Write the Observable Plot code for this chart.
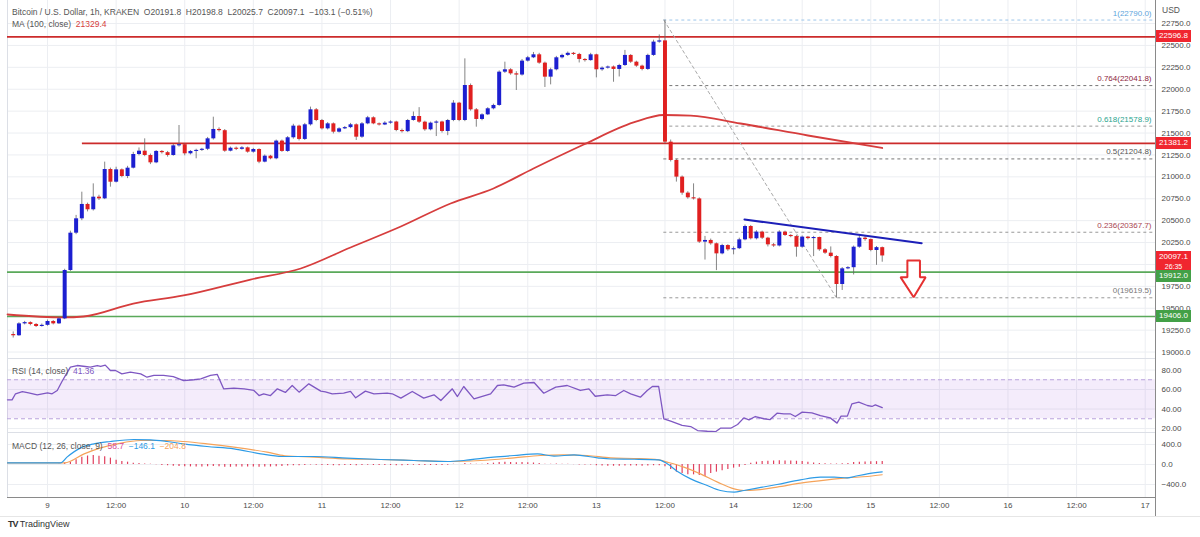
<!DOCTYPE html>
<html><head><meta charset="utf-8">
<script src="https://cdn.jsdelivr.net/npm/d3@7"></script>
<script src="https://cdn.jsdelivr.net/npm/@observablehq/plot@0.6"></script>
<style>
body{margin:0;background:#fff;font-family:"Liberation Sans",Arial,sans-serif;}
#wrap{position:relative;width:1200px;height:537px;overflow:hidden;background:#fff}
.pane{position:absolute;left:0}
.lbl{position:absolute;font-size:8.5px;color:#4a4a4a;white-space:pre;line-height:10px}
.box{position:absolute;left:1156px;width:35px;color:#fff;font-size:8px;line-height:10px;text-align:center}
</style></head><body>
<div id="wrap">
  <div id="p1" class="pane" style="top:0"></div>
  <div id="p2" class="pane" style="top:358px"></div>
  <div id="p3" class="pane" style="top:432px"></div>
</div>
<script>
// ---------------- DATA ----------------
const T0 = Date.UTC(2022, 8, 9); // 9 Sep 00:00 UTC, hour offsets below are from this
const firstCandleHour = -6;
// [open, high, low, close] hourly candles
const candles = [
[19200,19230,19160,19186],[19186,19335,19180,19322],[19322,19350,19310,19336],[19336,19345,19300,19315],
[19315,19325,19280,19292],[19292,19320,19285,19305],[19305,19365,19295,19349],[19349,19360,19310,19322],
[19322,19395,19315,19379],[19379,19945,19370,19931],[19931,20380,19920,20357],[20357,20560,20340,20521],
[20521,20825,20500,20685],[20685,20700,20600,20624],[20624,20920,20610,20768],[20768,20790,20730,20749],
[20749,21168,20740,21084],[21084,21100,20882,20939],[20939,21110,20930,21080],[21080,21090,20990,21004],
[21004,21120,20980,21099],[21099,21280,21090,21255],[21255,21330,21240,21293],[21293,21434,21230,21244],
[21244,21260,21140,21160],[21160,21300,21150,21290],[21290,21300,21260,21276],[21276,21290,21225,21244],
[21244,21370,21235,21354],[21354,21586,21340,21367],[21367,21375,21240,21263],[21263,21300,21250,21290],
[21290,21315,21206,21302],[21302,21325,21290,21315],[21315,21450,21300,21434],[21434,21681,21420,21541],
[21541,21560,21510,21527],[21527,21540,21280,21293],[21293,21340,21285,21327],[21327,21340,21300,21314],
[21314,21345,21305,21331],[21331,21340,21270,21282],[21282,21325,21270,21312],[21312,21320,21150,21168],
[21168,21250,21160,21236],[21236,21245,21195,21206],[21206,21420,21195,21408],[21408,21420,21280,21290],
[21290,21460,21280,21446],[21446,21600,21430,21579],[21579,21590,21410,21427],[21427,21610,21415,21594],
[21594,21796,21580,21765],[21765,21780,21630,21643],[21643,21655,21535,21548],[21548,21620,21535,21605],
[21605,21615,21490,21510],[21510,21560,21500,21548],[21548,21575,21540,21562],[21562,21610,21550,21594],
[21594,21605,21415,21453],[21453,21620,21440,21605],[21605,21690,21595,21674],[21674,21685,21595,21605],
[21605,21615,21580,21592],[21592,21630,21585,21613],[21613,21640,21600,21626],[21626,21635,21515,21529],
[21529,21545,21500,21516],[21516,21655,21505,21643],[21643,21740,21635,21689],[21689,21790,21610,21624],
[21624,21635,21520,21537],[21537,21625,21525,21613],[21613,21640,21460,21626],[21626,21635,21500,21518],
[21518,21655,21470,21643],[21643,21870,21630,21841],[21841,21850,21630,21643],[21643,22347,21630,22043],
[22043,22060,21750,21765],[21765,21780,21567,21655],[21655,21720,21640,21708],[21708,21790,21700,21777],
[21777,21830,21765,21815],[21815,22210,21805,22195],[22195,22309,22180,22222],[22222,22235,22160,22176],
[22176,22200,21986,22162],[22162,22340,22150,22321],[22321,22375,22310,22359],[22359,22420,22350,22393],
[22393,22410,22285,22298],[22298,22310,22020,22138],[22138,22240,22050,22222],[22222,22375,22210,22359],
[22359,22400,22345,22386],[22386,22425,22375,22410],[22410,22420,22385,22397],[22397,22410,22300,22340],
[22340,22350,22310,22327],[22327,22410,22320,22393],[22393,22400,22130,22222],[22222,22255,22205,22241],
[22241,22265,22230,22254],[22254,22265,22080,22226],[22226,22285,22140,22271],[22271,22443,22260,22386],
[22386,22395,22295,22309],[22309,22320,22250,22264],[22264,22275,22210,22226],[22226,22400,22215,22386],
[22386,22560,22375,22538],[22538,22620,22525,22552],[22552,22790,21380,21396],[21396,21420,21170,21187],
[21187,21200,20940,20997],[20997,21010,20790,20814],[20814,20830,20745,20761],[20761,20920,20735,20748],
[20748,20760,20240,20255],[20255,20320,20050,20274],[20274,20290,20220,20236],[20236,20245,19930,20121],
[20121,20230,20110,20216],[20216,20225,20150,20167],[20167,20200,20110,20180],[20180,20300,20170,20281],
[20281,20450,20270,20433],[20433,20445,20280,20293],[20293,20385,20280,20369],[20369,20380,20285,20300],
[20300,20310,20200,20224],[20224,20240,20195,20211],[20211,20385,20200,20369],[20369,20380,20320,20331],
[20331,20340,20305,20318],[20318,20330,20083,20197],[20197,20325,20185,20312],[20312,20320,20280,20295],
[20295,20320,20090,20308],[20308,20312,20150,20167],[20167,20180,20115,20129],[20129,20200,20075,20091],
[20091,20100,19620,19771],[19771,19965,19703,19950],[19950,19975,19940,19963],[19963,20210,19880,20197],
[20197,20330,20185,20300],[20300,20320,20265,20284],[20284,20290,20145,20159],[20159,20205,19990,20192],
[20191.8,20198.8,20025.7,20097.1]
];
// MA(100) [hour, price]
const ma100 = [[-7,19429],[2.8,19395],[6.3,19406],[15,19554],[23.8,19646],[35.5,19828],[44.3,19954],[53,20194],
[61.8,20433],[70.5,20696],[78,20867],[85,21095],[93.8,21369],[102.5,21621],[107.8,21706],[112.5,21700],
[121.2,21609],[133,21472],[146,21329.4]];
// RSI(14) [hour, value]
const rsi = [[-7,49.4],[-6.2,49.4],[-5.6,55.6],[-4.4,57.9],[-3.3,56.6],[-1.8,54.6],[0,56.6],[0.8,55.6],[1.7,59],
[2.6,69],[3.3,76],[4,83],[5.2,84.6],[6.6,83.6],[7.5,82.9],[8.7,84.6],[9.3,83.6],[10.1,85],[11,79.5],[11.9,79.5],
[13,76.1],[14.5,77.8],[16.3,76.1],[17.4,72.6],[18.6,74.4],[20.3,74.4],[22,73.3],[23.8,69.2],[25.6,70],[26.8,71],
[28.5,74.4],[29.7,75.5],[30.8,60.7],[32.6,61.4],[34.4,60.7],[36.1,59],[37,53.8],[37.8,55.6],[39,53.8],[40.2,60.7],
[41.6,57],[42.8,64.1],[44,57.3],[45.7,65.8],[47.8,58.3],[48.6,57.5],[49.8,55.6],[51.8,56.2],[53,58],[53.9,51.5],
[55.6,58.3],[57.1,55.6],[59.4,56.2],[60.3,55.6],[61.8,51.1],[63.8,58],[65.8,51.1],[67.6,54.5],[68.8,48.7],
[70.8,60.7],[71.7,52.8],[72.8,63.1],[74.6,50.4],[77.5,55.6],[78.7,64.1],[79.8,64.8],[81.6,62.4],[83.3,66.5],
[85.1,67.2],[86.8,56.2],[88.9,62.4],[90.9,64.1],[93.2,59],[94.7,60.7],[95.8,53.1],[97.9,54.5],[99.4,53.8],
[100.8,59],[102,55.6],[103.7,52.1],[104.9,59],[105.8,63.1],[106.9,63.1],[107.8,29.9],[109,27.5],[111,23.1],
[112.5,22],[113.7,17.9],[115.4,17.2],[116.9,16.9],[117.7,20.3],[119.5,20.3],[120.7,24.1],[121.8,30.9],
[122.7,28.9],[123.8,32.3],[125.3,30],[126.4,29.2],[127.6,35.7],[128.8,35.1],[129.9,35.1],[130.8,32.3],[132,36.8],
[133.7,36.1],[135.2,33.3],[136.9,30.9],[138.1,25.5],[138.8,32.7],[139.9,32.7],[140.7,45.3],[141.9,47],
[143.4,43.6],[144.2,42.6],[144.8,44.3],[146,41.36]];
const rsiBand = [30, 70];
// MACD(12,26,9) [hour, value]
const macdLine = [[-7,33],[2.3,33],[3.4,147],[5.8,333],[8.1,413],[11,460],[15.1,500],[18,493],[20.9,460],
[23.8,413],[27.9,360],[32.6,313],[37.3,213],[41,160],[46.6,160],[52.4,127],[58.3,100],[64.1,80],[70,60],
[72.8,80],[78,147],[81.6,180],[85.7,213],[88.6,167],[92.1,193],[96.2,133],[98.5,110],[102.6,105],[106.9,93],
[108.4,13],[110.2,-140],[112.5,-287],[115.4,-420],[117.7,-520],[120.1,-553],[121.8,-520],[124.1,-473],
[127.6,-400],[131.7,-307],[135.2,-253],[137.6,-253],[139.9,-267],[141.1,-240],[143.4,-187],[146,-146.1]];
const signalLine = [[-7,33],[3,33],[6.4,213],[9.3,333],[12.2,413],[16.3,480],[20.9,480],[23.8,460],[27.9,413],
[32.6,347],[38.4,247],[41.5,175],[46.6,147],[52.4,113],[58.3,100],[64.1,80],[70,60],[75.7,80],[81.6,133],
[86.2,180],[90.3,193],[94.4,180],[98.5,133],[102.6,120],[106.9,93],[108.4,47],[111.3,-53],[114.2,-187],
[117.2,-353],[120.1,-487],[121.8,-520],[124.1,-507],[127.6,-453],[131.7,-373],[136.4,-307],[139.9,-267],
[143.4,-240],[146,-204.8]];
const histFirstHour = -7;
const histogram = [2,2,2,2,2,2,2,2,2,5,
30,47,93,147,170,180,165,155,127,85,60,47,27,20,12,6,
-5,-20,-25,-35,-40,-45,-48,-50,-50,-45,-40,-45,-55,-55,-50,-50,-50,-48,-55,-52,-50,-45,
-40,-30,-25,-25,-20,-10,-15,-20,-20,-25,-25,-22,-20,-25,-20,-15,-18,-20,-20,-20,-25,-25,-18,-15,-18,-22,-20,-20,-22,-15,
5,0,20,10,5,5,20,27,40,45,40,35,40,35,30,20,5,5,10,5,
3,-3,-8,-10,-10,-25,-30,-33,-35,-35,-30,-30,-32,-35,-30,-25,-25,
-45,-100,-153,-180,-207,-207,-220,-240,-180,-153,-127,-100,-73,-53,-20,
27,47,60,65,70,75,70,70,65,60,47,30,20,13,10,10,13,20,40,45,50,55,57,59];
// horizontal levels
const resistanceLevels = [22596.8, 21381.2];
const resistanceFromHour = [-7, 6.1];
const supportLevels = [19912.0, 19406.0];
// fibonacci retracement (peak -> low)
const fibFrom = [107.8, 22790.0], fibTo = [138, 19619.5];
const fibRatios = ["1", "0.764", "0.618", "0.5", "0.236", "0"];
const fibPrices = [22790.0, 22041.8, 21578.9, 21204.8, 20367.7, 19619.5];
// trend line and down arrow annotation [hour, price]
const trendLine = [[121.9, 20513], [152.9, 20243]];
const arrowShape = [[150.4,20045],[152.6,20045],[152.6,19855],[153.6,19855],[151.5,19626],[149.2,19855],[150.4,19855],[150.4,20045]];
// price axis
const priceTicks = [19000,19250,19500,19750,20000,20250,20500,20750,21000,21250,21500,21750,22000,22250,22500,22750];
const priceTicksHiddenByBox = [20000];
const axisBoxValues = [22596.8, 21381.2, 20097.1, 19912.0, 19406.0];
const axisBoxKinds = ["res", "res", "last", "sup", "sup"];
const lastCountdown = "26:35";
const rsiTicks = [20, 40, 60, 80];
const macdTicks = [400, 0, -400];
const timeTickHours = [0,12,24,36,48,60,72,84,96,108,120,132,144,156,168,180,192];
const timeTickLabels = ["9","12:00","10","12:00","11","12:00","12","12:00","13","12:00","14","12:00","15","12:00","16","12:00","17"];
const xDomainHours = [-7, 193.8];
const priceDomain = [18926.5, 23013];
const rsiDomain = [15.9, 91.8];
const macdDomain = [-660, 640];

// ---------------- STYLE ----------------
const W = 1200, ML = 7, MR = 45;
const GRID = "#eceef2";
const UP = "#1c1fd0", DOWN = "#e02020";
const fibTextColors = ["#5ea5dc", "#8e2440", "#2aa58f", "#555555", "#a9444f", "#777777"];
const fibLineColors = ["#9cc6ea", "#777777", "#999999", "#777777", "#999999", "#999999"];
const boxColors = {res: "#f0262f", last: "#f0262f", sup: "#43a047"};
const font = '"Liberation Sans", Arial, sans-serif';
const style = {fontFamily: font, fontSize: "8px", color: "#4a4a4a", background: "transparent", overflow: "visible"};

// ---------------- BUILD ----------------
const at = h => new Date(T0 + h * 3600e3);
const xDomain = xDomainHours.map(at);
const timeTicks = timeTickHours.map(at);
const rows = candles.map((c, i) => ({t: at(firstCandleHour + i), o: c[0], h: c[1], l: c[2], c: c[3]}));
const up = rows.filter(d => d.c >= d.o), down = rows.filter(d => d.c < d.o);
const pts = a => a.map(([h, v]) => ({t: at(h), v}));
const fibRows = fibRatios.map((r, i) => ({label: `${r}(${fibPrices[i].toFixed(1)})`, price: fibPrices[i], i}));

const fibMarks = fibRows.flatMap(d => [
  Plot.ruleY([d], {y: "price", x1: () => at(fibFrom[0]), x2: () => xDomain[1], stroke: fibLineColors[d.i], strokeWidth: 1, strokeDasharray: "3,3"}),
  Plot.text([d], {y: "price", text: "label", frameAnchor: "right", textAnchor: "end", dx: -4, dy: -7, fill: fibTextColors[d.i], fontSize: 8})
]);

const price = Plot.plot({
  width: W, height: 358, marginTop: 0, marginBottom: 0, marginLeft: ML, marginRight: MR, style,
  x: {type: "utc", domain: xDomain, axis: null},
  y: {domain: priceDomain, axis: "right", ticks: priceTicks, tickFormat: d => priceTicksHiddenByBox.includes(d) ? "" : d.toFixed(1), tickSize: 0, tickPadding: 6, label: null},
  marks: [
    Plot.ruleY(priceTicks, {stroke: GRID}),
    Plot.ruleX(timeTicks, {stroke: GRID}),
    Plot.ruleX([xDomain[0]], {stroke: "#dcdfe6"}),
    Plot.ruleY(supportLevels, {stroke: "#5aa95a", strokeWidth: 1.7}),
    Plot.ruleY(resistanceLevels.map((v, i) => ({v, h: resistanceFromHour[i]})), {y: "v", x1: d => at(d.h), x2: () => xDomain[1], stroke: "#cc2b2b", strokeWidth: 1.8}),
    ...fibMarks,
    Plot.line(pts([fibFrom, fibTo]), {x: "t", y: "v", stroke: "#aaaaaa", strokeWidth: 1, strokeDasharray: "3,3"}),
    Plot.line(pts(ma100), {x: "t", y: "v", stroke: "#d63d3d", strokeWidth: 1.8, curve: "monotone-x"}),
    Plot.ruleX(rows, {x: "t", y1: "l", y2: "h", stroke: "#666", strokeWidth: 0.8}),
    Plot.ruleX(up, {x: "t", y1: "o", y2: "c", stroke: UP, strokeWidth: 4}),
    Plot.ruleX(down, {x: "t", y1: "o", y2: "c", stroke: DOWN, strokeWidth: 4}),
    Plot.line(pts(trendLine), {x: "t", y: "v", stroke: "#1c1fb8", strokeWidth: 2}),
    Plot.line(pts(arrowShape), {x: "t", y: "v", stroke: "#e53030", strokeWidth: 2, fill: "white", strokeLinejoin: "miter"}),
    Plot.ruleX([xDomain[1]], {stroke: "#8a8a8a"})
  ]
});
document.getElementById("p1").appendChild(price);

const rsiPlot = Plot.plot({
  width: W, height: 74, marginTop: 0, marginBottom: 0, marginLeft: ML, marginRight: MR, style,
  x: {type: "utc", domain: xDomain, axis: null},
  y: {domain: rsiDomain, axis: "right", ticks: rsiTicks, tickFormat: d => d.toFixed(2), tickSize: 0, tickPadding: 6, label: null},
  marks: [
    Plot.ruleY(rsiTicks, {stroke: GRID}),
    Plot.ruleX(timeTicks, {stroke: GRID}),
    Plot.ruleX([xDomain[0]], {stroke: "#dcdfe6"}),
    Plot.ruleY([rsiDomain[1]], {stroke: "#dcdfe6"}),
    Plot.rect([rsiBand], {x1: () => xDomain[0], x2: () => xDomain[1], y1: d => d[0], y2: d => d[1], fill: "#a35fe0", fillOpacity: 0.12}),
    Plot.ruleY(rsiBand, {stroke: "#b9a2dc", strokeDasharray: "4,3"}),
    Plot.line(pts(rsi), {x: "t", y: "v", stroke: "#7e57c2", strokeWidth: 1.3}),
    Plot.ruleX([xDomain[1]], {stroke: "#8a8a8a"})
  ]
});
document.getElementById("p2").appendChild(rsiPlot);

const histRows = histogram.map((v, i) => ({t: at(histFirstHour + i), v}));
const labelFor = d => timeTickLabels[timeTicks.findIndex(t => +t === +d)];
const macdPlot = Plot.plot({
  width: W, height: 83, marginTop: 0, marginBottom: 18, marginLeft: ML, marginRight: MR, style,
  x: {type: "utc", domain: xDomain, ticks: timeTicks, tickFormat: labelFor, tickSize: 0, tickPadding: 5, label: null},
  y: {domain: macdDomain, axis: "right", ticks: macdTicks, tickFormat: d => (d < 0 ? "\u2212" : "") + Math.abs(d).toFixed(1), tickSize: 0, tickPadding: 6, label: null},
  marks: [
    Plot.ruleY(macdTicks, {stroke: GRID}),
    Plot.ruleX(timeTicks, {stroke: GRID}),
    Plot.ruleX([xDomain[0]], {stroke: "#dcdfe6"}),
    Plot.ruleY([macdDomain[1]], {stroke: "#dcdfe6"}),
    Plot.ruleX(histRows, {x: "t", y1: 0, y2: "v", stroke: "#e0405e", strokeWidth: 1.2}),
    Plot.line(pts(signalLine), {x: "t", y: "v", stroke: "#f5a35a", strokeWidth: 1.2, curve: "monotone-x"}),
    Plot.line(pts(macdLine), {x: "t", y: "v", stroke: "#2d9be6", strokeWidth: 1.2, curve: "monotone-x"}),
    Plot.ruleY([macdDomain[0]], {stroke: "#8a8a8a"}),
    Plot.ruleX([xDomain[1]], {stroke: "#8a8a8a"})
  ]
});
document.getElementById("p3").appendChild(macdPlot);

// ---------------- OVERLAYS ----------------
const wrap = document.getElementById("wrap");
function addLabel(x, y, parts) {
  const d = document.createElement("div");
  d.className = "lbl"; d.style.left = x + "px"; d.style.top = y + "px";
  parts.forEach(([txt, col]) => { const s = document.createElement("span"); s.textContent = txt; if (col) s.style.color = col; d.appendChild(s); });
  wrap.appendChild(d);
}
addLabel(12, 7, [["Bitcoin / U.S. Dollar, 1h, KRAKEN  O20191.8  H20198.8  L20025.7  C20097.1  \u2212103.1 (\u22120.51%)", "#555"]]);
addLabel(12, 19, [["MA (100, close)  ", "#555"], ["21329.4", "#d63d3d"]]);
addLabel(12, 366, [["RSI (14, close)  ", "#555"], ["41.36", "#7e57c2"]]);
addLabel(12, 441, [["MACD (12, 26, close, 9)  ", "#555"], ["58.7", "#d84a9a"], ["  \u2212146.1", "#2d9be6"], ["  \u2212204.8", "#f5a35a"]]);
addLabel(1162, 5, [["USD", "#555"]]);

const ys = price.scale("y");
let prevBottom = -Infinity;
axisBoxValues.forEach((v, i) => {
  const y = ys.apply(v);
  const kind = axisBoxKinds[i];
  const h = kind === "last" ? 19 : 12;
  const top = Math.max(kind === "last" ? y - 4 : y - 6, prevBottom);
  prevBottom = top + h;
  const b = document.createElement("div");
  b.className = "box"; b.style.top = top + "px"; b.style.height = h + "px"; b.style.background = boxColors[kind];
  b.style.paddingTop = "1px"; b.style.boxSizing = "border-box";
  b.innerHTML = v.toFixed(1) + (kind === "last" ? "<br><span style='font-size:7px;line-height:8px'>" + lastCountdown + "</span>" : "");
  wrap.appendChild(b);
});
// vertical separator through the time-axis strip, bottom border
const vline = document.createElement("div");
vline.style.cssText = "position:absolute;left:1155px;top:497px;width:1px;height:20px;background:#8a8a8a";
wrap.appendChild(vline);
const bline = document.createElement("div");
bline.style.cssText = "position:absolute;left:0;top:516px;width:1200px;height:1px;background:#e6e6e6";
wrap.appendChild(bline);
// TradingView logo
const logo = document.createElement("div");
logo.style.cssText = "position:absolute;left:8px;top:519px;font-size:9px;color:#333;font-family:" + font;
logo.innerHTML = "<b style='letter-spacing:-1px'>TV</b> TradingView";
wrap.appendChild(logo);
</script>
</body></html>
